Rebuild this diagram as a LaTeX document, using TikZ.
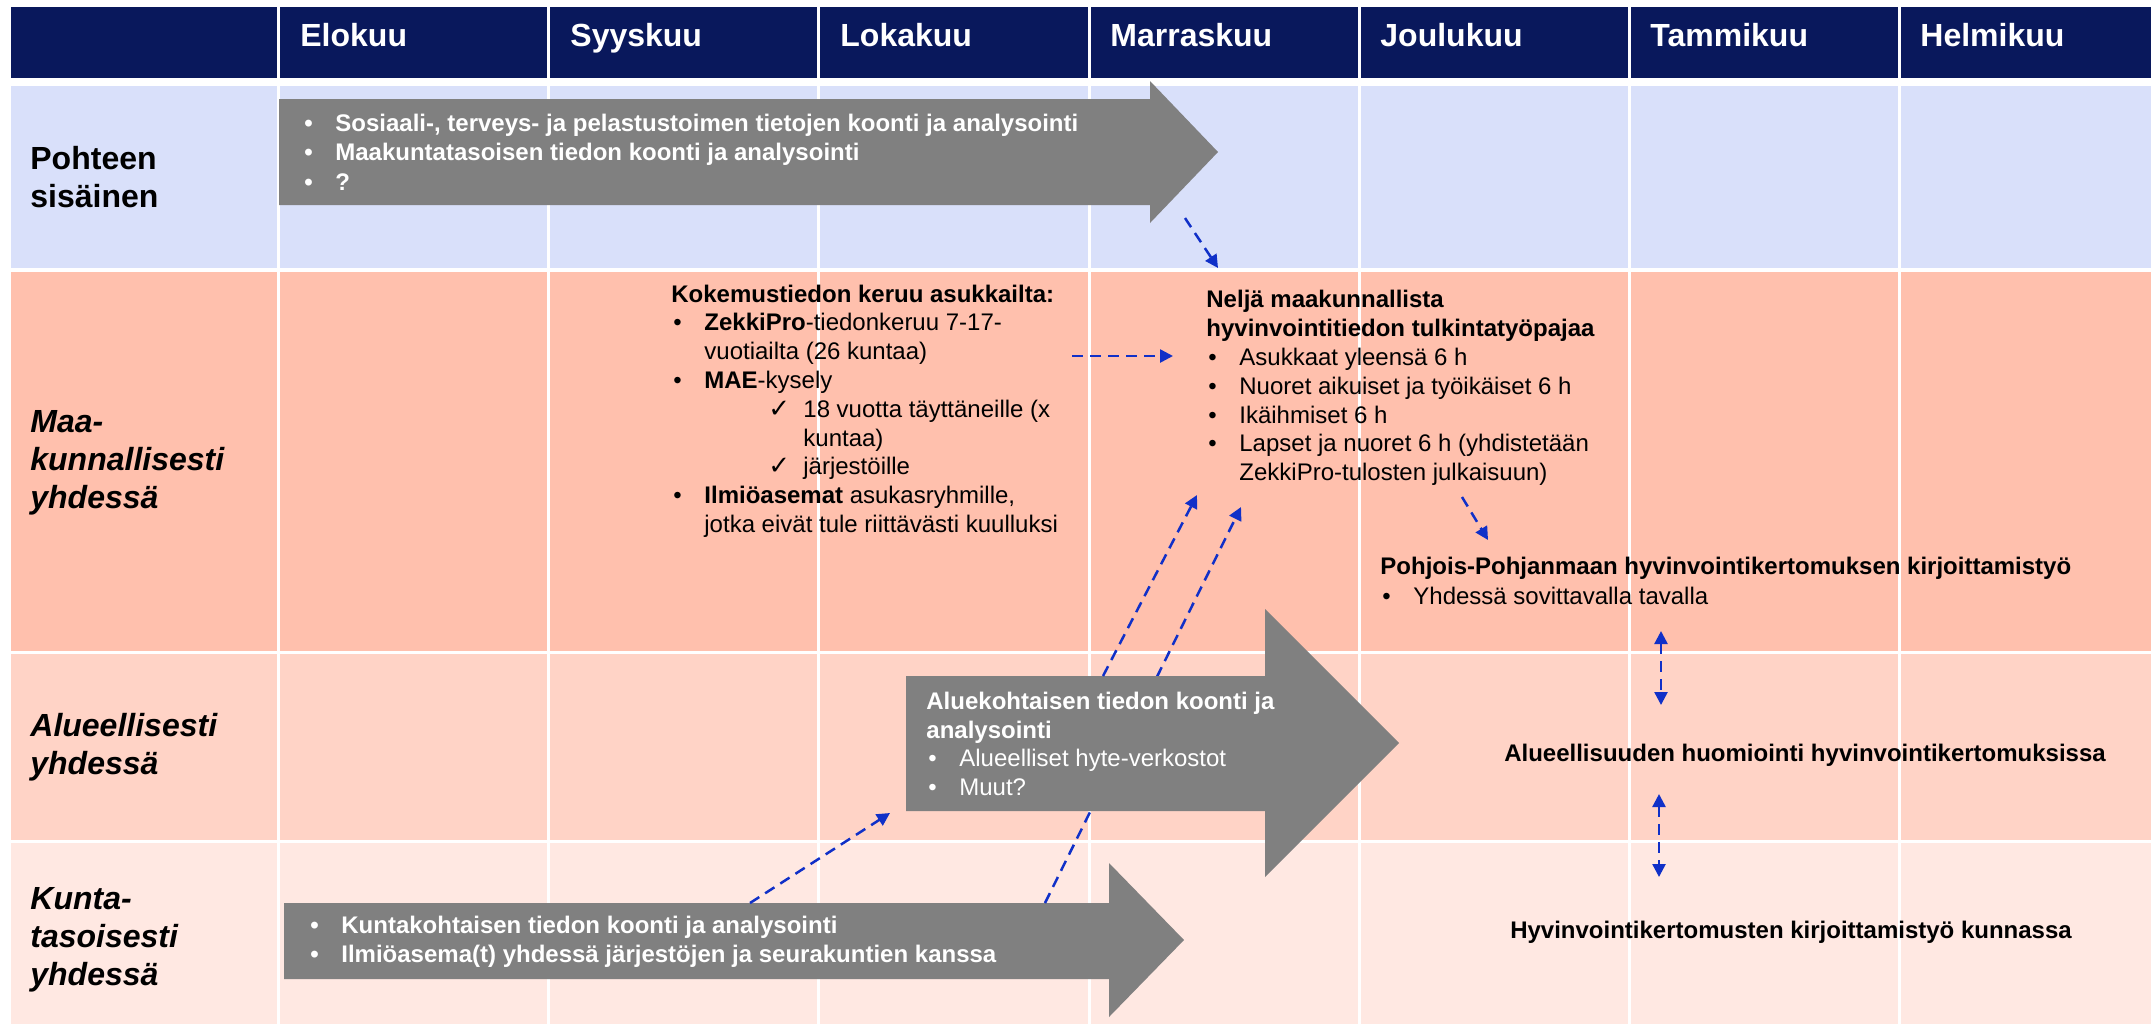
\documentclass[tikz,border=0pt]{standalone}
\usepackage{fontspec}
\setmainfont{Liberation Sans}
\newfontfamily\dejavu{DejaVu Sans}
\usetikzlibrary{arrows.meta}
\definecolor{navy}{RGB}{9,24,92}
\definecolor{rowA}{RGB}{217,224,250}
\definecolor{rowB}{RGB}{255,192,173}
\definecolor{rowC}{RGB}{255,211,198}
\definecolor{rowD}{RGB}{255,232,226}
\definecolor{arrowgray}{RGB}{128,128,128}
\definecolor{dashblue}{RGB}{16,48,200}
\newcommand\bu{\makebox[16.5pt][l]{\hspace{1pt}•}}
\newcommand\ind{\hspace*{16.5pt}}
\newcommand\ck{{\dejavu\fontsize{13}{13}\selectfont ✓}}
\tikzset{
  hdr/.style={anchor=base west, text=white, inner sep=0, font=\fontsize{16}{19}\selectfont\bfseries},
  rowlabel/.style={anchor=west, align=left, inner sep=0, font=\fontsize{16}{19}\selectfont\bfseries},
  rowlabelit/.style={rowlabel, font=\fontsize{16}{19}\selectfont\bfseries\itshape},
  body/.style={anchor=west, align=left, inner sep=0, font=\fontsize{12}{14.4}\selectfont},
  onarrow/.style={body, text=white},
  boldline/.style={anchor=center, inner sep=0, font=\fontsize{12}{14.5}\selectfont\bfseries},
  bigarrow/.style={fill=arrowgray},
  gridline/.style={draw=white, line width=1.5pt},
  link/.style={draw=dashblue, line width=1.25pt, dash pattern=on 5.5pt off 3.5pt,
     -{Triangle[length=6.5pt,width=6.5pt]}},
  linkboth/.style={link, {Triangle[length=6.5pt,width=6.5pt]}-{Triangle[length=6.5pt,width=6.5pt]}}
}
\begin{document}
\begin{tikzpicture}[x=0.5pt,y=-0.5pt]
\useasboundingbox (0,0) rectangle (2151,1024);
\fill[white] (0,0) rectangle (2151,1024);
% header and rows
\fill[navy] (11,7) rectangle (2151,78);
\fill[rowA] (11,86) rectangle (2151,268);
\fill[rowB] (11,272) rectangle (2151,651);
\fill[rowC] (11,654) rectangle (2151,840);
\fill[rowD] (11,843) rectangle (2151,1024);
\foreach \x in {278,548,818,1089,1359,1629,1899}
  \draw[gridline] (\x,7) -- (\x,1024);
% header labels
\node[hdr] (m1) at (300,46) {Elokuu};
\node[hdr] (m2) at (570,46) {Syyskuu};
\node[hdr] (m3) at (840,46) {Lokakuu};
\node[hdr] (m4) at (1110,46) {Marraskuu};
\node[hdr] (m5) at (1380,46) {Joulukuu};
\node[hdr] (m6) at (1650,46) {Tammikuu};
\node[hdr] (m7) at (1920,46) {Helmikuu};
% row labels
\node[rowlabel] (r1) at (30,177) {Pohteen\\sisäinen};
\node[rowlabelit] (r2) at (30,463) {Maa-\\kunnallisesti\\yhdessä};
\node[rowlabelit] (r3) at (30,747) {Alueellisesti\\yhdessä};
\node[rowlabelit] (r4) at (30,940) {Kunta-\\tasoisesti\\yhdessä};
% big gray arrows
\fill[bigarrow] (279,99) -- (1150,99) -- (1150,81) -- (1218,152) -- (1150,223) -- (1150,205) -- (279,205) -- cycle;
\fill[bigarrow] (284,903) -- (1109,903) -- (1109,863) -- (1184,940) -- (1109,1017) -- (1109,979) -- (284,979) -- cycle;
% coordinates for connectors
\coordinate (aS) at (1185,218);
\coordinate (aE) at (1218,268);
\coordinate (bS) at (1072,356);
\coordinate (bE) at (1173,356);
\coordinate (c1S) at (1103,676);
\coordinate (c1E) at (1197,495);
\coordinate (c2S) at (1045,903);
\coordinate (c2E) at (1241,507);
\coordinate (dS) at (750,903);
\coordinate (dE) at (890,813);
\coordinate (eS) at (1462,497);
\coordinate (eE) at (1488,540);
\coordinate (fS) at (1661,631);
\coordinate (fE) at (1661,705);
\coordinate (gS) at (1659,794);
\coordinate (gE) at (1659,877);
\draw[link] (c2S) -- (c2E);
\fill[bigarrow] (906,676) -- (1265,676) -- (1265,609) -- (1399,743) -- (1265,877) -- (1265,811) -- (906,811) -- cycle;
% texts on arrows
\node[onarrow, font=\fontsize{12}{14.8}\selectfont\bfseries] (t1) at (302,152) {\bu Sosiaali-, terveys- ja pelastustoimen tietojen koonti ja analysointi\\
\bu Maakuntatasoisen tiedon koonti ja analysointi\\
\bu ?};
\node[onarrow] (t2) at (926,744) {\textbf{Aluekohtaisen tiedon koonti ja}\\
\textbf{analysointi}\\
\bu Alueelliset hyte-verkostot\\
\bu Muut?};
\node[onarrow, font=\fontsize{12}{14.5}\selectfont\bfseries] (t3) at (308,942) {\bu Kuntakohtaisen tiedon koonti ja analysointi\\
\bu Ilmiöasema(t) yhdessä järjestöjen ja seurakuntien kanssa};
% text blocks
\node[body] (kok) at (671,411) {\textbf{Kokemustiedon keruu asukkailta:}\\
\bu\textbf{ZekkiPro}-tiedonkeruu 7-17-\\
\ind vuotiailta (26 kuntaa)\\
\bu\textbf{MAE}-kysely\\
\hspace*{48.5pt}\makebox[17.5pt][l]{\ck}18 vuotta täyttäneille (x\\
\hspace*{66pt}kuntaa)\\
\hspace*{48.5pt}\makebox[17.5pt][l]{\ck}järjestöille\\
\bu\textbf{Ilmiöasemat} asukasryhmille,\\
\ind jotka eivät tule riittävästi kuulluksi};
\node[body] (nel) at (1206,388) {\textbf{Neljä maakunnallista}\\
\textbf{hyvinvointitiedon tulkintatyöpajaa}\\
\bu Asukkaat yleensä 6 h\\
\bu Nuoret aikuiset ja työikäiset 6 h\\
\bu Ikäihmiset 6 h\\
\bu Lapset ja nuoret 6 h (yhdistetään\\
\ind ZekkiPro-tulosten julkaisuun)};
\node[body, font=\fontsize{12}{15}\selectfont] (pp) at (1380,581) {\textbf{Pohjois-Pohjanmaan hyvinvointikertomuksen kirjoittamistyö}\\
\bu Yhdessä sovittavalla tavalla};
\node[boldline] (alu) at (1805,755) {Alueellisuuden huomiointi hyvinvointikertomuksissa};
\node[boldline] (hyv) at (1791,932) {Hyvinvointikertomusten kirjoittamistyö kunnassa};
% dashed connectors
\draw[link] (aS) -- (aE);
\draw[link] (bS) -- (bE);
\draw[link] (c1S) -- (c1E);
\draw[link] (dS) -- (dE);
\draw[link] (eS) -- (eE);
\draw[linkboth] (fS) -- (fE);
\draw[linkboth] (gS) -- (gE);
\end{tikzpicture}
\end{document}
